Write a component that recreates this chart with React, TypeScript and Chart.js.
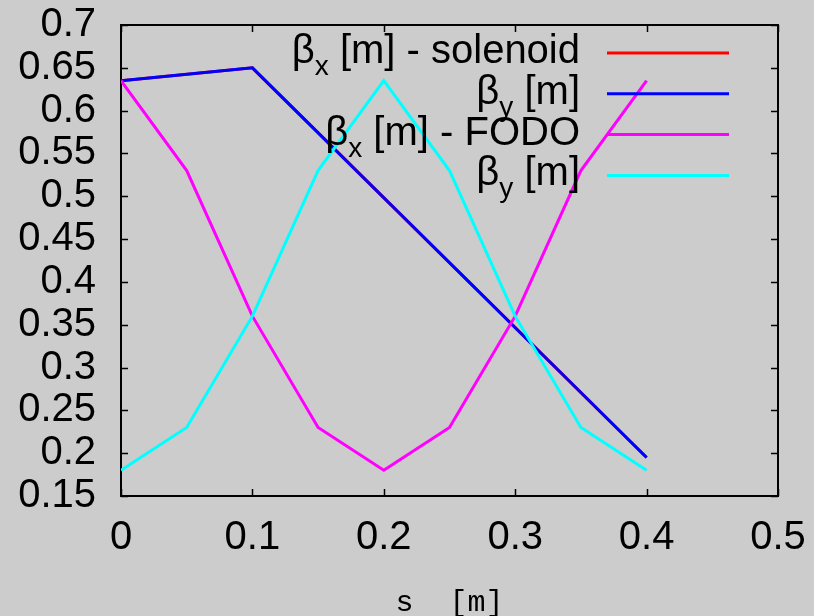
import React, { useEffect, useRef } from "react";
import { Chart, registerables } from "chart.js";

Chart.register(...registerables);

// ---- data ----
const solenoidS = [0, 0.1, 0.4];
const betaXSolenoid = [0.635, 0.65, 0.195];
const betaYSolenoid = [0.635, 0.65, 0.195];

const fodoS = [0, 0.05, 0.1, 0.15, 0.2, 0.25, 0.3, 0.35, 0.4];
const betaXFodo = [0.635, 0.53, 0.36, 0.23, 0.18, 0.23, 0.36, 0.53, 0.635];
const betaYFodo = [0.18, 0.23, 0.36, 0.53, 0.635, 0.53, 0.36, 0.23, 0.18];

const xTickValues = [0, 0.1, 0.2, 0.3, 0.4, 0.5];
const yTickValues = [0.15, 0.2, 0.25, 0.3, 0.35, 0.4, 0.45, 0.5, 0.55, 0.6, 0.65, 0.7];

const seriesColors = ["#ff0000", "#0000ff", "#ff00ff", "#00ffff"];
const legendMain = ["\u03b2", "\u03b2", "\u03b2", "\u03b2"];
const legendSub = ["x", "y", "x", "y"];
const legendRest = [" [m] - solenoid", " [m]", " [m] - FODO", " [m]"];
const xTitle = "s  [m]";

const SANS = "'Liberation Sans', Arial, Helvetica, sans-serif";
const MONO = "'Liberation Mono', 'Courier New', monospace";
const FONT_SIZE = 40;
const SUB_SIZE = 28;

const toPts = (xs: number[], ys: number[]) => xs.map((x, i) => ({ x, y: ys[i] }));

const bgPlugin = {
  id: "gpBackground",
  beforeDraw(chart: any) {
    const { ctx, width, height } = chart;
    ctx.save();
    ctx.fillStyle = "#cccccc";
    ctx.fillRect(0, 0, width, height);
    ctx.restore();
  },
};

const framePlugin = {
  id: "gpFrame",
  beforeDatasetsDraw(chart: any) {
    const { ctx, chartArea, scales } = chart;
    const { left, right, top, bottom } = chartArea;
    ctx.save();
    ctx.strokeStyle = "#000";
    ctx.lineWidth = 1.5;
    const tl = 7;
    ctx.beginPath();
    scales.x.ticks.forEach((t: any) => {
      const px = Math.round(scales.x.getPixelForValue(t.value)) + 0.5;
      ctx.moveTo(px, bottom);
      ctx.lineTo(px, bottom - tl);
      ctx.moveTo(px, top);
      ctx.lineTo(px, top + tl);
    });
    scales.y.ticks.forEach((t: any) => {
      const py = Math.round(scales.y.getPixelForValue(t.value)) + 0.5;
      ctx.moveTo(left, py);
      ctx.lineTo(left + tl, py);
      ctx.moveTo(right, py);
      ctx.lineTo(right - tl, py);
    });
    ctx.stroke();
    ctx.lineWidth = 2;
    ctx.strokeRect(left, top, right - left, bottom - top);

    // x axis title
    ctx.fillStyle = "#000";
    ctx.font = `30px ${MONO}`;
    ctx.textAlign = "center";
    ctx.textBaseline = "middle";
    ctx.fillText(xTitle, (left + right) / 2, bottom + 107);
    ctx.restore();
  },
};

const legendPlugin = {
  id: "gpLegend",
  afterDatasetsDraw(chart: any) {
    const { ctx, chartArea } = chart;
    const textRight = chartArea.right - 198;
    const lineStart = chartArea.right - 171;
    const lineEnd = chartArea.right - 49;
    const rowTop = chartArea.top + 28;
    const rowH = 40.8;
    ctx.save();
    ctx.textAlign = "left";
    ctx.textBaseline = "alphabetic";
    for (let i = 0; i < legendMain.length; i++) {
      const yc = rowTop + i * rowH;
      ctx.font = `${FONT_SIZE}px ${SANS}`;
      const wRest = ctx.measureText(legendRest[i]).width;
      const wMain = ctx.measureText(legendMain[i]).width;
      ctx.font = `${SUB_SIZE}px ${SANS}`;
      const wSub = ctx.measureText(legendSub[i]).width;
      const xRest = textRight - wRest;
      const xSub = xRest - wSub;
      const xMain = xSub - wMain;
      ctx.fillStyle = "#000";
      ctx.font = `${FONT_SIZE}px ${SANS}`;
      ctx.fillText(legendMain[i], xMain, yc + 10);
      ctx.fillText(legendRest[i], xRest, yc + 10);
      ctx.font = `${SUB_SIZE}px ${SANS}`;
      ctx.fillText(legendSub[i], xSub, yc + 22);
      ctx.strokeStyle = seriesColors[i];
      ctx.lineWidth = 3;
      ctx.beginPath();
      ctx.moveTo(lineStart, yc);
      ctx.lineTo(lineEnd, yc);
      ctx.stroke();
    }
    ctx.restore();
  },
};

const zeroPad = (scale: any) => {
  scale.paddingTop = 0;
  scale.paddingBottom = 0;
  scale.paddingLeft = 0;
  scale.paddingRight = 0;
};

export default function App() {
  const canvasRef = useRef<HTMLCanvasElement | null>(null);

  useEffect(() => {
    const canvas = canvasRef.current;
    if (!canvas) return;
    const mk = (label: string, data: any[], color: string, order: number) => ({
      label,
      data,
      borderColor: color,
      backgroundColor: color,
      borderWidth: 3,
      pointRadius: 0,
      fill: false,
      tension: 0,
      order,
    });
    const chart = new Chart(canvas, {
      type: "line",
      data: {
        datasets: [
          mk("βx [m] - solenoid", toPts(solenoidS, betaXSolenoid), seriesColors[0], 3),
          mk("βy [m]", toPts(solenoidS, betaYSolenoid), seriesColors[1], 2),
          mk("βx [m] - FODO", toPts(fodoS, betaXFodo), seriesColors[2], 1),
          mk("βy [m]", toPts(fodoS, betaYFodo), seriesColors[3], 0),
        ],
      },
      options: {
        responsive: false,
        maintainAspectRatio: false,
        animation: false,
        devicePixelRatio: 1,
        layout: { padding: { top: 25, right: 36, left: 0, bottom: 0 } },
        scales: {
          x: {
            type: "linear",
            min: 0,
            max: 0.5,
            afterBuildTicks(scale: any) {
              scale.ticks = xTickValues.map((v) => ({ value: v }));
            },
            afterFit(scale: any) {
              scale.height = 120;
              zeroPad(scale);
            },
            grid: { display: false, drawTicks: false },
            border: { display: false },
            ticks: {
              color: "#000",
              font: { family: SANS, size: FONT_SIZE },
              padding: 18,
              maxRotation: 0,
              autoSkip: false,
              callback: (v: any) => String(Number(Number(v).toFixed(2))),
            },
          },
          y: {
            type: "linear",
            min: 0.15,
            max: 0.7,
            afterBuildTicks(scale: any) {
              scale.ticks = yTickValues.map((v) => ({ value: v }));
            },
            afterFit(scale: any) {
              scale.width = 121;
              zeroPad(scale);
            },
            grid: { display: false, drawTicks: false },
            border: { display: false },
            ticks: {
              color: "#000",
              font: { family: SANS, size: FONT_SIZE },
              padding: 25,
              autoSkip: false,
              callback: (v: any) => String(Number(Number(v).toFixed(2))),
            },
          },
        },
        plugins: {
          legend: { display: false },
          tooltip: { enabled: false },
          title: { display: false },
        },
      },
      plugins: [bgPlugin, framePlugin, legendPlugin],
    } as any);
    return () => chart.destroy();
  }, []);

  return (
    <div style={{ position: "fixed", left: 0, top: 0, width: 814, height: 616, background: "#cccccc" }}>
      <canvas ref={canvasRef} width={814} height={616} style={{ display: "block", width: 814, height: 616 }} />
    </div>
  );
}
